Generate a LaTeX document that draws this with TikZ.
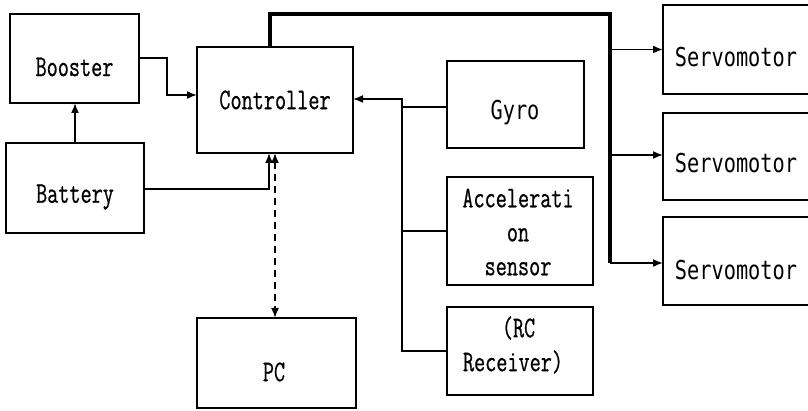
\documentclass[tikz,border=0pt]{standalone}
\usepackage{fontspec}
\usetikzlibrary{arrows.meta,calc}
\newfontfamily\mincho[FakeStretch=0.72,FakeBold=0.6]{Latin Modern Mono}
\newfontfamily\gothic[FakeStretch=0.78]{DejaVu Sans Mono}
\tikzset{
  box/.style={draw, line width=1.6pt, inner sep=0pt, outer sep=0pt},
  lbl/.style={inner sep=0pt, font=\mincho\fontsize{30}{34}\selectfont, align=center},
  slbl/.style={inner sep=0pt, font=\gothic\fontsize{26}{28}\selectfont},
  conn/.style={line width=1.7pt},
  arr/.style={conn, -{Latex[length=10pt,width=8pt]}},
  bus/.style={line width=3.6pt}
}
\begin{document}
\begin{tikzpicture}[x=1pt,y=-1pt]
\useasboundingbox (0,0) rectangle (808,411);
% boxes
\node[box, minimum width=129pt, minimum height=89pt] (booster) at (74.5,58.5) {};
\node[box, minimum width=138pt, minimum height=90pt] (battery) at (75,188) {};
\node[box, minimum width=156pt, minimum height=106pt] (controller) at (275,100) {};
\node[box, minimum width=159pt, minimum height=90pt] (pc) at (276.5,363) {};
\node[box, minimum width=137pt, minimum height=87pt] (gyro) at (515.5,104.5) {};
\node[box, minimum width=146pt, minimum height=108pt] (accel) at (520,231) {};
\node[box, minimum width=146pt, minimum height=88pt] (rc) at (520,351) {};
\node[box, minimum width=146pt, minimum height=89pt] (servoA) at (736,49.5) {};
\node[box, minimum width=146pt, minimum height=87pt] (servoB) at (736,156.5) {};
\node[box, minimum width=146pt, minimum height=88pt] (servoC) at (736,261) {};
% labels
\node[lbl] (tbooster) at (74.5,67) {Booster};
\node[lbl] (tbattery) at (75,197) {Battery};
\node[lbl] (tcontroller) at (275,100) {Controller};
\node[lbl] (tpc) at (274,372) {PC};
\node[slbl] (tgyro) at (515,113) {Gyro};
\node[lbl] (taccel) at (518,232) {Accelerati\\on\\sensor};
\node[lbl] (trc) at (513,345) {\hphantom{R}(RC\\Receiver)};
\node[slbl] (tservoA) at (736,57) {Servomotor};
\node[slbl] (tservoB) at (736,163) {Servomotor};
\node[slbl] (tservoC) at (736,270) {Servomotor};
% coordinates
\coordinate (bt) at (610,14);
\coordinate (bb) at (610,263);
\coordinate (sb) at (402,99);
\coordinate (bk) at (167,58);
% connectors
\draw[arr] (battery.north) -- (battery.north |- booster.south);
\draw[arr] (booster.east |- bk) -- (bk) |- ([yshift=5pt]controller.west);
\draw[arr] ([yshift=-1pt]battery.east) -| ([xshift=-6pt]controller.south);
\draw[conn, dash pattern=on 7pt off 5pt, {Latex[length=10pt,width=8pt]}-{Latex[length=10pt,width=8pt]}] (controller.south) -- (controller.south |- pc.north);
\draw[bus] ([xshift=-5pt]controller.north) |- (bt) -- (bb);
\draw[arr] (servoA.west -| bt) -- (servoA.west);
\draw[arr] ([yshift=1.5pt]servoB.west -| bt) -- ([yshift=1.5pt]servoB.west);
\draw[arr] ([yshift=-2pt]servoC.west -| bt) -- ([yshift=-2pt]servoC.west);
\draw[arr] (rc.west) -| (sb) -- (controller.east |- sb);
\draw[conn] ([yshift=-2.5pt]gyro.west) -- ([yshift=-2.5pt]gyro.west -| sb);
\draw[conn] (accel.west) -- (accel.west -| sb);
\end{tikzpicture}
\end{document}
